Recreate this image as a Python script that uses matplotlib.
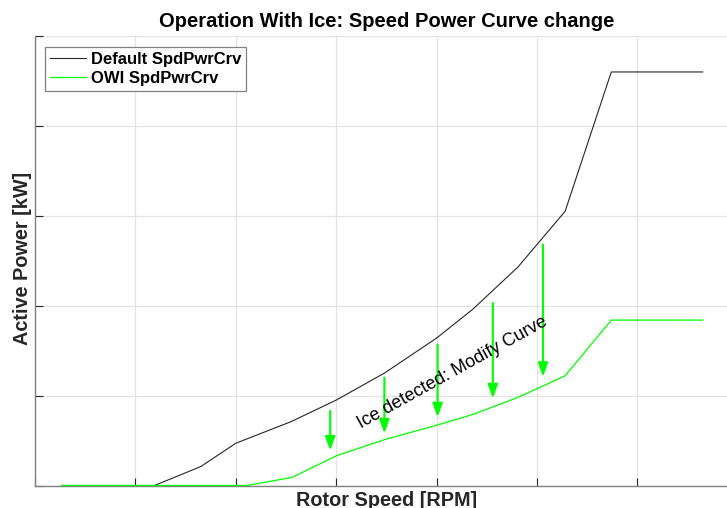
import matplotlib
matplotlib.use("Agg")
import matplotlib.pyplot as plt
from matplotlib.patches import ArrowStyle

plt.rcParams['font.family'] = ['Liberation Sans', 'DejaVu Sans']

# ---- data (arbitrary units; no tick labels shown) ----
rpm_default = [0.27, 1.19, 1.65, 2.00, 2.55, 3.00, 3.48, 4.00, 4.36, 4.81, 5.28, 5.74, 6.65]
power_default = [0.00, 0.00, 0.21, 0.47, 0.71, 0.95, 1.25, 1.64, 1.96, 2.43, 3.05, 4.60, 4.60]

rpm_owi = [0.27, 2.11, 2.56, 3.00, 3.48, 4.00, 4.36, 4.81, 5.28, 5.74, 6.65]
power_owi = [0.00, 0.00, 0.09, 0.33, 0.51, 0.67, 0.79, 0.98, 1.22, 1.84, 1.84]

arrow_x = [2.94, 3.48, 4.01, 4.56, 5.06]
arrow_top = [0.83, 1.20, 1.57, 2.03, 2.68]
arrow_tip = [0.39, 0.58, 0.76, 0.97, 1.21]

legend_labels = ['Default SpdPwrCrv', 'OWI SpdPwrCrv']
title_text = 'Operation With Ice: Speed Power Curve change'
xlabel_text = 'Rotor Speed [RPM]'
ylabel_text = 'Active Power [kW]'
note_text = 'Ice detected: Modify Curve'

green = '#00ff00'
dark = '#262626'
spine_gray = '#808080'

fig = plt.figure(figsize=(7.27, 5.08), dpi=100)
W, H = 727, 508
ax = fig.add_axes([35 / W, (H - 485.5) / H, (737.8 - 35) / W, 449.5 / H])

ax.plot(rpm_default, power_default, color=dark, lw=0.8, label=legend_labels[0],
        zorder=3, clip_on=False)
ax.plot(rpm_owi, power_owi, color=green, lw=0.9, label=legend_labels[1],
        zorder=4, clip_on=False)

style = ArrowStyle('-|>', head_length=0.55, head_width=0.2)
for x, y0, y1 in zip(arrow_x, arrow_top, arrow_tip):
    ax.annotate('', xy=(x, y1), xytext=(x, y0),
                arrowprops=dict(arrowstyle=style, color=green, lw=1.5,
                                mutation_scale=15, shrinkA=0, shrinkB=0),
                zorder=5)

ax.text(4.16, 1.26, note_text, rotation=29, rotation_mode='anchor',
        ha='center', va='center', fontsize=13, color='black', zorder=6)

ax.set_xlim(0, 7)
ax.set_ylim(0, 5)
ax.set_xticks(range(0, 8))
ax.set_yticks(range(0, 6))
ax.set_xticklabels([])
ax.set_yticklabels([])
ax.tick_params(direction='in', length=6, width=0.8, color=dark)
ax.grid(True, color='#e3e3e3', lw=0.9)
ax.set_axisbelow(True)
for s in ['top', 'right']:
    ax.spines[s].set_visible(False)
for s in ['left', 'bottom']:
    ax.spines[s].set_color(spine_gray)
    ax.spines[s].set_linewidth(1.0)

ax.set_title(title_text, fontsize=14.5, fontweight='bold', color='black', pad=6.7)
ax.set_xlabel(xlabel_text, fontsize=14.3, fontweight='bold', color=dark)
ax.xaxis.label.set_va('baseline')
ax.xaxis.set_label_coords(0.5, -(505.5 - 485.5) / 449.5)
ax.set_ylabel(ylabel_text, fontsize=14.3, fontweight='bold', color=dark)
ax.yaxis.label.set_va('baseline')
ax.yaxis.set_label_coords((28 - 35) / 702.8, 0.505)

leg = ax.legend(loc='upper left', bbox_to_anchor=(0.0142, 0.975), borderaxespad=0,
                fancybox=False, edgecolor=spine_gray, framealpha=1,
                prop={'weight': 'bold', 'size': 12}, handlelength=2.14,
                handletextpad=0.3, borderpad=0.3, labelspacing=0.2)
leg.get_frame().set_linewidth(0.9)

fig.savefig('out.png', dpi=100)
